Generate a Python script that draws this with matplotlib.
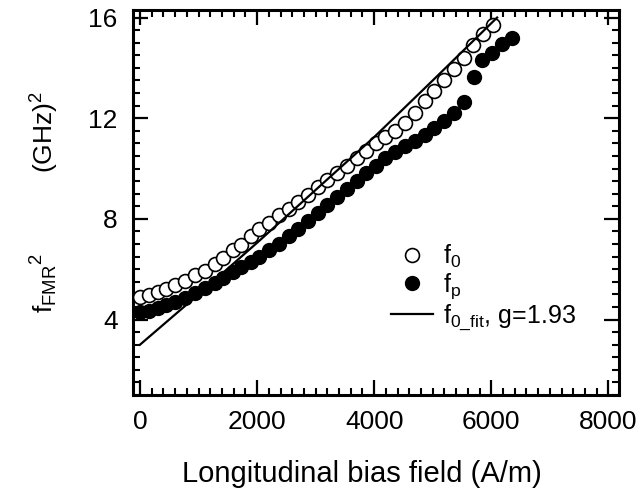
import matplotlib
matplotlib.use("Agg")
import matplotlib.pyplot as plt
import matplotlib.ticker as mticker

# ─── Data ─────────────────────────────────────────────────────────────────────
H_F0 = [0, 150, 300, 450, 600, 770, 940, 1110, 1280, 1420, 1590, 1730, 1900,
        2040, 2210, 2380, 2540, 2700, 2870, 3040, 3200, 3370, 3530, 3700, 3860,
        4030, 4190, 4360, 4520, 4690, 4860, 5030, 5190, 5360, 5530, 5690, 5860,
        6030]
F0_SQ = [4.9, 4.98, 5.08, 5.2, 5.38, 5.52, 5.75, 5.92, 6.2, 6.45, 6.75, 6.98,
         7.3, 7.58, 7.82, 8.15, 8.4, 8.65, 8.95, 9.25, 9.55, 9.82, 10.1, 10.4,
         10.7, 11.0, 11.25, 11.5, 11.8, 12.2, 12.7, 13.1, 13.5, 13.95, 14.4,
         14.9, 15.35, 15.7]

H_FP = [0, 150, 300, 450, 600, 770, 940, 1110, 1280, 1420, 1590, 1730, 1900,
        2040, 2210, 2380, 2540, 2700, 2870, 3040, 3200, 3370, 3530, 3700, 3860,
        4030, 4190, 4360, 4520, 4690, 4860, 5030, 5190, 5360, 5530, 5700, 5840,
        6010, 6180, 6350]
FP_SQ = [4.28, 4.35, 4.45, 4.57, 4.7, 4.87, 5.05, 5.25, 5.45, 5.65, 5.88, 6.08,
         6.3, 6.5, 6.75, 7.0, 7.3, 7.58, 7.9, 8.22, 8.55, 8.88, 9.2, 9.52, 9.82,
         10.12, 10.4, 10.65, 10.88, 11.1, 11.35, 11.6, 11.9, 12.2, 12.65, 13.65,
         14.3, 14.6, 14.95, 15.2]

H_FIT = [0, 1000, 2000, 3000, 4000, 5000, 6100]
FIT_SQ = [3.0, 5.0, 7.05, 9.15, 11.25, 13.5, 16.0]

plt.rcParams.update({
    "font.family": ["Liberation Sans", "DejaVu Sans"],
    "mathtext.fontset": "custom",
    "mathtext.rm": "Liberation Sans",
    "mathtext.it": "Liberation Sans",
    "mathtext.default": "regular",
})

fig = plt.figure(figsize=(6.44, 5.0), dpi=100)
ax = fig.add_axes([0.2065, 0.21, 0.7545, 0.77])

ax.plot(H_F0, F0_SQ, linestyle="none", marker="o", ms=10, mfc="white",
        mec="black", mew=1.2, label="f$_0$", zorder=3)
ax.plot(H_FP, FP_SQ, linestyle="none", marker="o", ms=10, mfc="black",
        mec="black", mew=1.0, label="f$_p$", zorder=3)
ax.plot(H_FIT, FIT_SQ, color="black", lw=1.6, label=r"f$_{0\_fit}$, g=1.93",
        zorder=4)

ax.set_xlim(-120, 8180)
ax.set_ylim(1.0, 16.3)
ax.xaxis.set_major_locator(mticker.MultipleLocator(2000))
ax.xaxis.set_minor_locator(mticker.MultipleLocator(200))
ax.yaxis.set_major_locator(mticker.MultipleLocator(4))
ax.yaxis.set_minor_locator(mticker.MultipleLocator(0.5))

ax.tick_params(which="major", direction="in", top=True, right=True,
               length=11, width=1.6, labelsize=19, pad=11)
ax.tick_params(which="minor", direction="in", top=True, right=True,
               length=5, width=1.5)
for s in ax.spines.values():
    s.set_linewidth(2.2)

ax.set_xlabel("Longitudinal bias field (A/m)", fontsize=21)
ax.xaxis.set_label_coords(0.471, -0.17)
ax.set_ylabel(r"f$_{FMR}$$^2$           (GHz)$^2$", fontsize=19, labelpad=20)

ax.legend(loc="center left", bbox_to_anchor=(0.53, 0.28), frameon=False,
          fontsize=18, handlelength=1.7, handletextpad=0.4, labelspacing=0.05,
          borderpad=0, borderaxespad=0, numpoints=1)

fig.savefig("out.png", dpi=100)
